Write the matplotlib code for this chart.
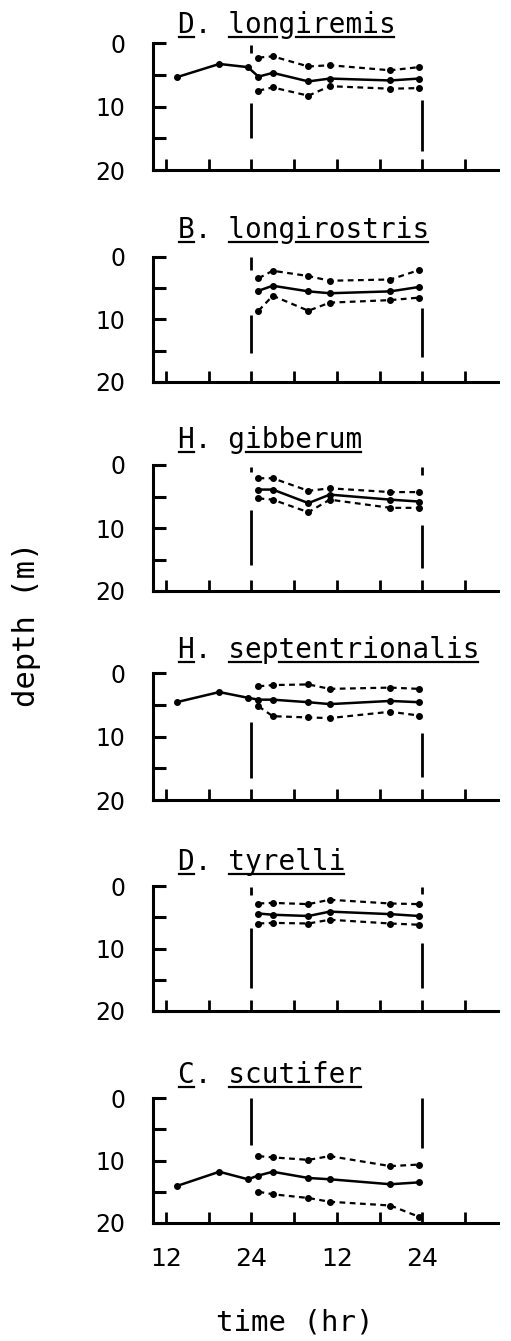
import numpy as np
import matplotlib
matplotlib.use("Agg")
import matplotlib.pyplot as plt
from matplotlib.lines import Line2D

W, H, DPI = 511, 1341, 100
nan = np.nan

# ---------------- data ----------------
genus = ["D.", "B.", "H.", "H.", "D.", "C."]
species = ["longiremis", "longirostris", "gibberum", "septentrionalis", "tyrelli", "scutifer"]

# sampling times (hr); day 1 runs 12..24, day 2 24..48
t_mean = [13.5, 19.5, 23.5, 25, 27, 32, 35, 43.5, 47.5]
t_range = [25, 27, 32, 35, 43.5, 47.5]

# mean depth (m)
mean_longiremis = [5.4, 3.3, 3.8, 5.3, 4.7, 6.05, 5.6, 5.9, 5.6]
mean_longirostris = [nan, nan, nan, 5.4, 4.6, 5.5, 5.8, 5.5, 4.8]
mean_gibberum = [nan, nan, nan, 3.9, 3.9, 6.05, 4.7, 5.5, 5.8]
mean_septentrionalis = [4.6, 3.0, 3.9, 4.2, 4.2, 4.6, 4.9, 4.4, 4.6]
mean_tyrelli = [nan, nan, nan, 4.4, 4.6, 4.8, 4.1, 4.5, 4.8]
mean_scutifer = [14.1, 11.8, 13.0, 12.4, 11.8, 12.8, 13.0, 13.8, 13.5]

# upper limit (m)
upper_longiremis = [2.3, 2.1, 3.7, 3.5, 4.3, 3.8]
upper_longirostris = [3.4, 2.2, 3.05, 3.8, 3.6, 2.1]
upper_gibberum = [2.1, 2.1, 4.1, 3.7, 4.3, 4.3]
upper_septentrionalis = [2.1, 1.9, 1.8, 2.5, 2.3, 2.5]
upper_tyrelli = [2.8, 2.7, 2.9, 2.2, 2.8, 2.9]
upper_scutifer = [9.3, 9.5, 9.9, 9.3, 10.9, 10.65]

# lower limit (m)
lower_longiremis = [7.5, 7.0, 8.3, 6.8, 7.2, 7.1]
lower_longirostris = [8.6, 6.2, 8.6, 7.3, 6.9, 6.5]
lower_gibberum = [5.3, 5.5, 7.5, 5.5, 6.8, 6.8]
lower_septentrionalis = [5.25, 6.8, 7.0, 7.1, 6.1, 6.7]
lower_tyrelli = [6.0, 5.9, 6.0, 5.4, 6.0, 6.2]
lower_scutifer = [15.0, 15.4, 16.0, 16.6, 17.2, 19.0]

# vertical marker bars at 24 h and 48 h (depth extents, m)
bar_times = [24, 48]
bars_longiremis = [[(0.3, 1.6), (9.5, 15.0)], [(9.0, 17.0)]]
bars_longirostris = [[(0.0, 2.1), (9.3, 15.4)], [(8.2, 16.0)]]
bars_gibberum = [[(0.3, 1.1), (7.1, 15.9)], [(0.3, 1.6), (9.5, 16.3)]]
bars_septentrionalis = [[(7.7, 16.5)], [(9.5, 16.4)]]
bars_tyrelli = [[(0.1, 1.4), (6.7, 16.3)], [(0.1, 1.2), (9.1, 16.3)]]
bars_scutifer = [[(0.0, 7.5)], [(0.0, 8.0)]]

x_ticks = [12, 18, 24, 30, 36, 42, 48, 54]
x_ticklabels = ["12", "", "24", "", "12", "", "24", ""]
y_ticks = [0, 5, 10, 15, 20]
y_ticklabels = ["0", "", "10", "", "20"]

means = [mean_longiremis, mean_longirostris, mean_gibberum,
         mean_septentrionalis, mean_tyrelli, mean_scutifer]
uppers = [upper_longiremis, upper_longirostris, upper_gibberum,
          upper_septentrionalis, upper_tyrelli, upper_scutifer]
lowers = [lower_longiremis, lower_longirostris, lower_gibberum,
          lower_septentrionalis, lower_tyrelli, lower_scutifer]
bars = [bars_longiremis, bars_longirostris, bars_gibberum,
        bars_septentrionalis, bars_tyrelli, bars_scutifer]

# ---------------- layout ----------------
ax_left_px, ax_right_px = 153, 498
ax_tops = [43, 257, 465, 673, 886, 1098]
ax_bots = [170, 382, 591, 800, 1011, 1223]
title_baselines = [33, 238, 448, 658, 870, 1083]
title_left_px = 178
TITLE_FS = 20
MONO = "DejaVu Sans Mono"

fig = plt.figure(figsize=(W / DPI, H / DPI), dpi=DPI)
fig.patch.set_facecolor("white")

for i in range(6):
    top, bot = ax_tops[i], ax_bots[i]
    ax = fig.add_axes([ax_left_px / W, 1 - bot / H,
                       (ax_right_px - ax_left_px) / W, (bot - top) / H])
    ax.set_xlim(10.2, 58.6)
    ax.set_ylim(20, 0)
    for s in ("top", "right"):
        ax.spines[s].set_visible(False)
    for s in ("left", "bottom"):
        ax.spines[s].set_linewidth(2.2)
    ax.set_yticks(y_ticks)
    ax.set_yticklabels(y_ticklabels, fontsize=17, family="DejaVu Sans")
    ax.set_xticks(x_ticks)
    if i == 5:
        ax.set_xticklabels(x_ticklabels, fontsize=18, family="DejaVu Sans")
    else:
        ax.set_xticklabels([])
    ax.tick_params(axis="y", direction="in", length=9, width=2.2, pad=20)
    ax.tick_params(axis="x", direction="in", length=8, width=2.0, pad=17)

    # vertical marker bars
    for bt, segs in zip(bar_times, bars[i]):
        for (d0, d1) in segs:
            ax.plot([bt, bt], [d0, d1], color="black", lw=2.0,
                    solid_capstyle="butt")

    # range lines
    ax.plot(t_range, uppers[i], color="black", lw=1.6,
            linestyle=(0, (2.6, 2.0)), marker="o", ms=4.0)
    ax.plot(t_range, lowers[i], color="black", lw=1.6,
            linestyle=(0, (2.6, 2.0)), marker="o", ms=4.0)
    # mean line
    ax.plot(t_mean, means[i], color="black", lw=1.8,
            linestyle="-", marker="o", ms=4.0)

    # title with underlines
    label = f"{genus[i]} {species[i]}"
    bx = title_left_px / W
    by = 1 - title_baselines[i] / H
    fig.text(bx, by, label, family=MONO, fontsize=TITLE_FS,
             ha="left", va="baseline")
    cw = TITLE_FS * DPI / 72 * 0.6021
    runs = []
    cur = None
    for k, ch in enumerate(label):
        ok = ch not in " .gpqj"
        if ok:
            if cur is None:
                cur = [k, k + 1]
            else:
                cur[1] = k + 1
        else:
            if cur is not None:
                runs.append(cur)
                cur = None
    if cur is not None:
        runs.append(cur)
    uy = 1 - (title_baselines[i] + 4) / H
    for a, b in runs:
        x0 = (title_left_px + a * cw + 1) / W
        x1 = (title_left_px + b * cw - 1) / W
        fig.add_artist(Line2D([x0, x1], [uy, uy], transform=fig.transFigure,
                              color="black", lw=1.6))

fig.text(27 / W, 1 - 624 / H, "depth (m)", rotation=90, family=MONO,
         fontsize=22, ha="center", va="center")
fig.text(295 / W, 1 - 1322 / H, "time (hr)", family=MONO,
         fontsize=21, ha="center", va="center")

fig.savefig("out.png", dpi=DPI, facecolor="white")
